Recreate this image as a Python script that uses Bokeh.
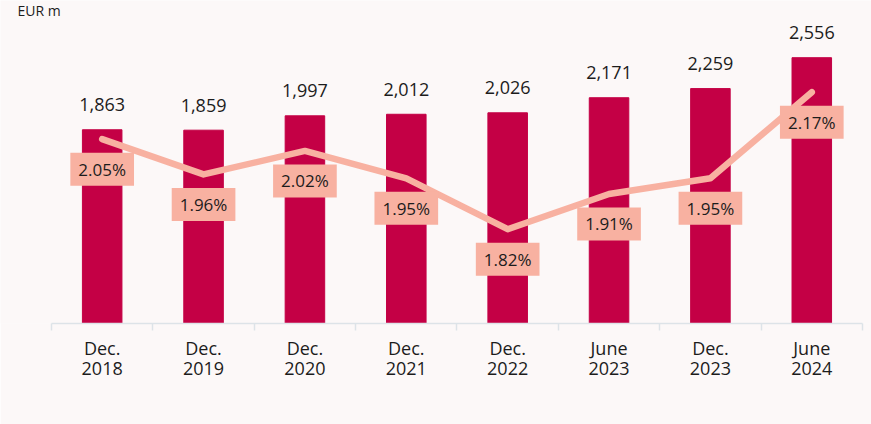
from bokeh.plotting import figure
from bokeh.models import Range1d, FixedTicker, Legend, LegendItem, Label
from bokeh.core.properties import value
from bokeh.embed import file_html
from bokeh.resources import INLINE

periods = ["Dec.\n2018", "Dec.\n2019", "Dec.\n2020", "Dec.\n2021",
           "Dec.\n2022", "June\n2023", "Dec.\n2023", "June\n2024"]
npl = [1863, 1859, 1997, 2012, 2026, 2171, 2259, 2556]
aq_ratio = [2.05, 1.96, 2.02, 1.95, 1.82, 1.91, 1.95, 2.17]

BAR = "#C40045"
LINE = "#F8B1A1"
BG = "#FCF8F8"
FONT = "Open Sans"
TXT = "#1c1c1c"

n = len(periods)
xs = [i + 0.5 for i in range(n)]
x_start, x_end = -0.503, 8.089
y_top = 3106
aq_lo, aq_hi = 1.5791, 2.4043

p = figure(frame_width=871, frame_height=323, output_backend="svg", toolbar_location=None,
           x_range=Range1d(x_start, x_end), y_range=Range1d(0, y_top),
           y_axis_location=None,
           min_border_left=0, min_border_right=0, min_border_top=0, min_border_bottom=0)
p.extra_y_ranges = {"aq": Range1d(aq_lo, aq_hi)}
p.background_fill_color = BG
p.border_fill_color = BG
p.outline_line_color = None
p.grid.visible = False

bars = p.vbar(x=xs, top=npl, width=0.39, fill_color=BAR, line_color=BAR)
line = p.line(x=xs, y=aq_ratio, y_range_name="aq", line_color=LINE, line_width=6.5,
              line_cap="round", line_join="round")

p.text(x=xs, y=npl, text=[f"{v:,}" for v in npl], y_offset=-25,
       text_align="center", text_baseline="middle",
       text_font=value(FONT), text_font_size="18px", text_color=TXT)

p.text(x=xs, y=aq_ratio, text=[f"{v:.2f}%" for v in aq_ratio], y_range_name="aq",
       y_offset=30, text_align="center", text_baseline="middle",
       text_font=value(FONT), text_font_size="17px", text_color=TXT,
       background_fill_color=LINE, padding=dict(left=8, right=8, top=5, bottom=5))

ax = p.xaxis[0]
ax.ticker = FixedTicker(ticks=xs, minor_ticks=list(range(n + 1)))
ax.major_label_overrides = {x: lab for x, lab in zip(xs, periods)}
ax.bounds = (0, n)
ax.axis_line_color = "#DDE3E8"
ax.axis_line_width = 1.5
ax.major_tick_line_color = None
ax.major_tick_out = 0
ax.major_tick_in = 0
ax.minor_tick_line_color = "#DDE3E8"
ax.minor_tick_line_width = 1.5
ax.minor_tick_out = 7
ax.minor_tick_in = 0
ax.major_label_standoff = 5
ax.major_label_text_font = FONT
ax.major_label_text_font_size = "18px"
ax.major_label_text_line_height = 0.86
ax.major_label_text_color = TXT

p.add_layout(Label(x=x_start, y=y_top, x_offset=17, text="EUR m", text_baseline="top",
                   text_font=FONT, text_font_size="14px", text_color=TXT))

legend = Legend(items=[LegendItem(label="NPL", renderers=[bars]),
                       LegendItem(label="AQ Ratio", renderers=[line])],
                orientation="horizontal", location="top_center",
                glyph_width=51, glyph_height=10, label_standoff=6, spacing=20,
                label_text_font=FONT, label_text_font_size="18px", label_text_color=TXT,
                border_line_color=None, background_fill_alpha=0, margin=0, padding=2)
p.add_layout(legend, "below")

open("out.html", "w").write(file_html(p, INLINE))
